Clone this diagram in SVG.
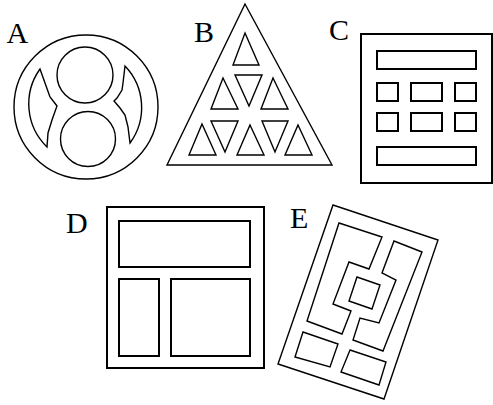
<svg xmlns="http://www.w3.org/2000/svg" width="493" height="405" viewBox="0 0 493 405">
<style>
.s{fill:none;stroke:#000;stroke-width:1.4;stroke-linejoin:miter}
.t{fill:none;stroke:#000;stroke-width:2}
.l{font-family:"Liberation Serif","Times New Roman",serif;font-size:30px;fill:#000}
</style>
<rect width="493" height="405" fill="#fff"/>
<g id="A">
<text class="l" x="6.5" y="43">A</text>
<circle class="s" cx="86" cy="107" r="72"/>
<circle class="s" cx="85" cy="75" r="28"/>
<circle class="s" cx="88" cy="139" r="27.5"/>
<path class="s" d="M40,69 L45,83 L50,97 L57,106 L52,120 L48,133 L47,147 A60,60 0 0 1 40,69 Z"/>
<path class="s" d="M125,66 A60,60 0 0 1 130,143 L128,127 L125,115 L120,108 L114,101 L117,98 L122,90 L123,83 Z"/>
</g>
<g id="B">
<text class="l" x="194" y="42">B</text>
<polygon class="s" points="245,4 332,165 167,165"/>
<polygon class="s" points="245,33 259,65 233,65"/>
<polygon class="s" points="235,75 262,75 249,106"/>
<polygon class="s" points="223,78 238,109 211,109"/>
<polygon class="s" points="273,78 288,109 261,109"/>
<polygon class="s" points="211,121 238,121 225,152"/>
<polygon class="s" points="262,121 288,121 275,152"/>
<polygon class="s" points="202,124 216,155 189,155"/>
<polygon class="s" points="250,125 264,155 237,155"/>
<polygon class="s" points="298,125 312,155 285,155"/>
</g>
<g id="C">
<text class="l" x="329" y="39.5">C</text>
<rect class="t" x="361" y="34" width="131" height="149"/>
<rect class="t" x="377" y="51" width="99" height="18"/>
<rect class="t" x="377" y="83" width="21" height="18"/>
<rect class="t" x="411" y="83" width="31" height="18"/>
<rect class="t" x="455" y="83" width="21" height="18"/>
<rect class="t" x="377" y="113" width="21" height="18"/>
<rect class="t" x="411" y="113" width="31" height="18"/>
<rect class="t" x="455" y="113" width="21" height="18"/>
<rect class="t" x="377" y="147" width="99" height="18"/>
</g>
<g id="D">
<text class="l" x="66" y="232.5">D</text>
<rect class="t" x="107" y="207" width="157" height="161"/>
<rect class="t" x="119" y="221" width="131" height="46"/>
<rect class="t" x="119" y="279" width="40" height="77"/>
<rect class="t" x="171" y="279" width="79" height="77"/>
</g>
<g id="E">
<text class="l" x="290" y="228">E</text>
<polygon class="s" points="333,205 438,240 384,399 278,364"/>
<polygon class="s" points="339,223 382,237 369,269 349,262 333,304 351,311 342,334 307,321"/>
<polygon class="s" points="394,241 422,252 383,351 353,340 360,318 379,323 396,280 382,273"/>
<polygon class="s" points="357,277 380,285 372,309 349,301"/>
<polygon class="s" points="303,332 338,344 330,367 295,357"/>
<polygon class="s" points="350,350 386,362 379,385 341,372"/>
</g>
<g id="connectors"></g>
</svg>
